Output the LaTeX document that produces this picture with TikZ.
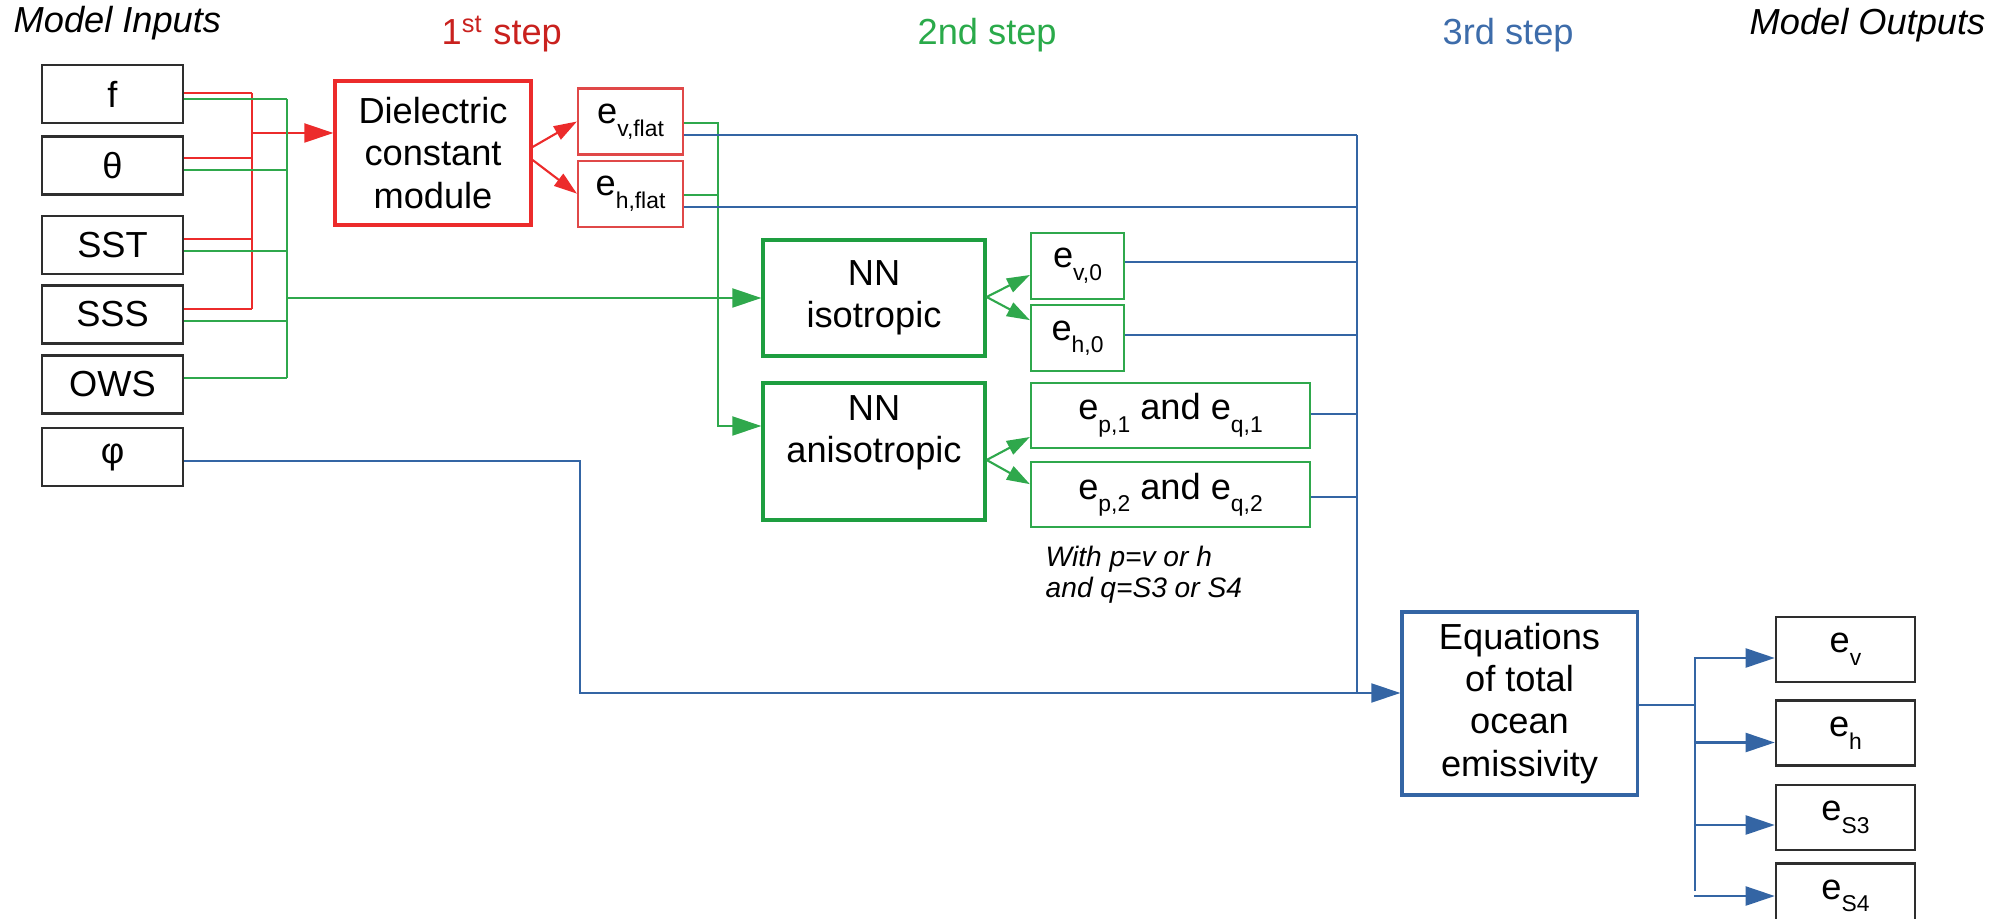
\documentclass[tikz,border=0pt]{standalone}
\usepackage{fontspec}
\setmainfont{Liberation Sans}
\usetikzlibrary{arrows.meta,positioning,calc}
\definecolor{rdln}{HTML}{EC2B2B}
\definecolor{rdbox}{HTML}{E04848}
\definecolor{rdtxt}{HTML}{C9211E}
\definecolor{grnln}{HTML}{2FA84C}
\definecolor{grnbox}{HTML}{1E9E40}
\definecolor{grntxt}{HTML}{2AAA4A}
\definecolor{bluln}{HTML}{3465A4}
\definecolor{blutxt}{HTML}{3D6CAA}
\definecolor{boxgray}{HTML}{2E2E2E}
\newcommand\lsub[1]{\raisebox{-3.6pt}{\fontsize{6.5}{7}\selectfont #1}}

\begin{document}
\begin{tikzpicture}[x=0.01cm,y=-0.01cm,>=Triangle, every node/.style={font=\fontsize{10.3}{12}\selectfont}]
\tikzstyle{inbox}=[draw=boxgray, line width=0.7pt, minimum width=1.41cm, minimum height=0.58cm, inner sep=0pt]
\tikzstyle{diel}=[draw=rdln, line width=0.9pt, minimum width=1.96cm, minimum height=1.44cm, align=center, inner sep=0pt]
\tikzstyle{eflat}=[draw=rdbox, line width=0.6pt, minimum width=1.05cm, minimum height=0.66cm, inner sep=0pt]
\tikzstyle{nnbox}=[draw=grnbox, line width=0.9pt, minimum width=2.22cm, align=center, inner sep=0pt]
\tikzstyle{ezero}=[draw=grnln, line width=0.6pt, minimum width=0.93cm, minimum height=0.66cm, inner sep=0pt]
\tikzstyle{ebig}=[ezero, minimum width=2.79cm, minimum height=0.65cm]
\tikzstyle{eqbox}=[draw=bluln, line width=0.9pt, minimum width=2.35cm, minimum height=1.83cm, align=center, inner sep=0pt]
\tikzstyle{outbox}=[inbox, minimum width=1.39cm, minimum height=0.65cm]
\tikzstyle{steplbl}=[anchor=base west, inner sep=0pt]
\tikzstyle{redln}=[rdln, line width=0.6pt]
\tikzstyle{grnl}=[grnln, line width=0.6pt]
\tikzstyle{blul}=[bluln, line width=0.6pt]
\tikzstyle{bigtip}=[-{Triangle[length=0.29cm,width=0.19cm]}]
\tikzstyle{smalltip}=[-{Triangle[length=0.23cm,width=0.15cm]}]
\useasboundingbox (0,0) rectangle (2006,919);

% headings
\node[steplbl, font=\fontsize{10.3}{12}\selectfont\itshape] (tin) at (13,33) {Model Inputs};
\node[steplbl, text=rdtxt] (tstep1) at (441,45) {1\textsuperscript{st} step};
\node[steplbl, text=grntxt] (tstep2) at (917,45) {2nd step};
\node[steplbl, text=blutxt] (tstep3) at (1442,45) {3rd step};
\node[steplbl, font=\fontsize{10.3}{12}\selectfont\itshape] (tout) at (1749,35) {Model Outputs};

% inputs
\node[inbox] (fin) at (112.5,94) {f};
\node[inbox] (thin) at (112.5,165.5) {θ};
\node[inbox] (sst) at (112.5,245) {SST};
\node[inbox] (sss) at (112.5,314.5) {SSS};
\node[inbox] (ows) at (112.5,384.5) {OWS};
\node[inbox] (phi) at (112.5,457) {φ};

% 1st step
\node[diel] (diel) at (433,153) {Dielectric\\constant\\module};
\node[eflat] (evflat) at (630.5,121.5) {e\lsub{v,flat}};
\node[eflat, below=0.04cm of evflat] (ehflat) {e\lsub{h,flat}};

% 2nd step
\node[nnbox, minimum height=1.16cm] (nniso) at (874,298) {NN\\isotropic};
\node[nnbox, minimum height=1.37cm] (nnaniso) at (874,451.5) {NN\\anisotropic\\[0.6pt]\mbox{}};
\node[ezero] (ev0) at (1077.5,266) {e\lsub{v,0}};
\node[ezero, below=0.04cm of ev0] (eh0) {e\lsub{h,0}};
\node[ebig] (ep1) at (1170.5,415.5) {e\lsub{p,1} and e\lsub{q,1}};
\node[ebig, below=0.12cm of ep1] (ep2) {e\lsub{p,2} and e\lsub{q,2}};
\node[anchor=north west, inner sep=0pt, align=left, font=\fontsize{8}{9}\selectfont\itshape] (note) at (1045,545) {With p=v or h\\and q=S3 or S4};

% 3rd step
\node[eqbox] (eqn) at (1519.5,703.5) {Equations\\of total\\ocean\\emissivity};
\node[outbox] (ev) at (1845.5,649.5) {e\lsub{v}};
\node[outbox, below=0.16cm of ev] (eh) {e\lsub{h}};
\node[outbox, below=0.17cm of eh] (es3) {e\lsub{S3}};
\node[outbox, below=0.11cm of es3] (es4) {e\lsub{S4}};

\coordinate (rbus) at (252,0);
\coordinate (gbus) at (287,0);
\coordinate (gbus2) at (718,0);
\coordinate (bbus) at (1357,0);
\coordinate (fork) at (1695,0);

% red wiring
\foreach \n/\dy in {fin/-1,thin/-7.5,sst/-6,sss/-5.5}
  \draw[redln] ($(\n.east)+(0,\dy)$) coordinate (tmp) -- (tmp -| rbus);
\draw[redln] (252,93) -- (252,309);
\draw[redln, bigtip] (252,133) -- (252,133 -| diel.west);
\draw[redln, smalltip] ($(diel.east)+(0,-6)$) -- (evflat.west);
\draw[redln, smalltip] ($(diel.east)+(0,7)$) -- (ehflat.west);

% green wiring
\foreach \n/\dy in {fin/5,thin/4.5,sst/6,sss/6.5,ows/-6.5}
  \draw[grnl] ($(\n.east)+(0,\dy)$) coordinate (tmp) -- (tmp -| gbus);
\draw[grnl] (287,99) -- (287,378);
\draw[grnl, bigtip] (287,298) -- (287,298 -| nniso.west);
\draw[grnl] ($(ehflat.east)+(0,1)$) coordinate (tmp) -- (tmp -| gbus2);
\draw[grnl, bigtip] ($(evflat.east)+(0,1.5)$) -| (718,426) -- (718,426 -| nnaniso.west);
\draw[grnl, smalltip] ($(nniso.east)+(0,-1)$) -- ($(ev0.west)+(0,9)$);
\draw[grnl, smalltip] ($(nniso.east)+(0,-1)$) -- ($(eh0.west)+(0,-18)$);
\draw[grnl, smalltip] ($(nnaniso.east)+(0,8.5)$) -- ($(ep1.west)+(0,21.5)$);
\draw[grnl, smalltip] ($(nnaniso.east)+(0,8.5)$) -- ($(ep2.west)+(0,-10.5)$);

% blue wiring
\foreach \n/\dy in {evflat/13.5,ehflat/13,ev0/-4,eh0/-3,ep1/-1.5,ep2/2.5}
  \draw[blul] ($(\n.east)+(0,\dy)$) coordinate (tmp) -- (tmp -| bbus);
\draw[blul] (1357,135) -- (1357,693);
\draw[blul, bigtip] ($(phi.east)+(0,4)$) -| (580,693) -- (580,693 -| eqn.west);
\draw[blul] ($(eqn.east)+(0,1.5)$) coordinate (tmp) -- (tmp -| fork);
\draw[blul] (1695,658) -- (1695,891);
\foreach \n/\dy in {ev/8.5,eh/9.5,es3/7.5,es4/0}
  \draw[blul, bigtip] ($(\n.west)+(-81,\dy)$) -- ($(\n.west)+(0,\dy)$);
\end{tikzpicture}
\end{document}
